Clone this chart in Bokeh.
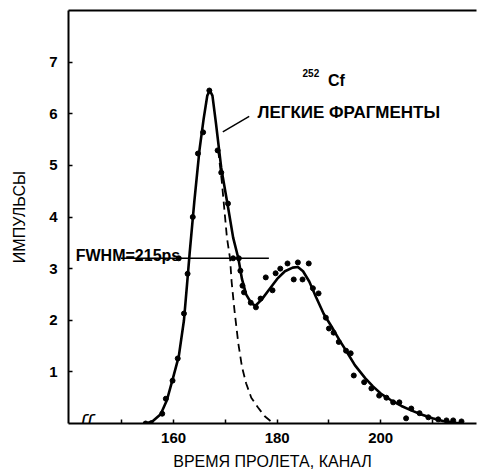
from bokeh.plotting import figure
from bokeh.models import Range1d, FixedTicker, LinearAxis, Label
from bokeh.embed import file_html
from bokeh.resources import INLINE

# solid fitted curve
curve_x = [154.8, 156, 157.5, 158.7, 159.8, 161, 162, 162.6, 163.1, 164, 165, 165.8, 166.5, 167, 167.5,
           168.2, 169.2, 170.5, 171.5, 172.5, 173.2, 174, 175, 175.8, 177, 178.5, 180, 181.5, 183, 184,
           185, 186.2, 187.5, 189, 190.5, 192, 193.5, 195, 197, 198.5, 200, 202, 204, 206, 208, 210,
           212, 214, 215.5]
curve_y = [0, 0.05, 0.18, 0.45, 0.85, 1.3, 2.0, 2.7, 3.3, 4.3, 5.3, 5.9, 6.35, 6.45, 6.35,
           5.8, 4.95, 4.2, 3.6, 3.2, 2.8, 2.5, 2.33, 2.28, 2.4, 2.6, 2.8, 2.95, 3.02, 3.03,
           2.95, 2.75, 2.45, 2.12, 1.88, 1.62, 1.38, 1.13, 0.88, 0.72, 0.58, 0.45, 0.34, 0.25, 0.17, 0.1,
           0.05, 0.02, 0]

# dashed light-fragment component
dash_x = [168.6, 169.3, 170.3, 170.9, 171.2, 171.8, 172.5, 173.2, 174, 175, 176.3, 177.6, 179.3]
dash_y = [5.3, 4.7, 3.6, 3.2, 2.75, 2.15, 1.55, 1.1, 0.78, 0.5, 0.31, 0.14, 0]

# measured points
pts_x = [154.6, 155.6, 157.8, 158.5, 159.8, 160.8, 162.0, 162.7, 161.0, 163.7, 164.7, 165.7, 166.9,
         168.5, 169.2, 170.5, 171.5, 172.6, 172.9, 173.3, 173.6, 174.9, 175.9, 176.8, 177.8, 179.1,
         179.7, 180.6, 182.0, 183.2, 184.0, 184.9, 186.1, 186.9, 188.0, 189.4, 190.0, 190.9, 191.9,
         193.3, 194.2, 194.8, 196.8, 198.2, 199.7, 201.1, 202.4, 203.6, 204.9, 205.9, 207.5, 209.2,
         211.1, 212.7, 214.0, 215.6]
pts_y = [0, 0, 0.19, 0.48, 0.83, 1.26, 2.13, 2.9, 3.2, 4.0, 5.23, 5.64, 6.45,
         5.29, 4.86, 4.26, 3.2, 3.2, 2.96, 2.67, 2.54, 2.34, 2.25, 2.42, 2.83, 2.58,
         2.91, 3.0, 3.1, 2.79, 3.12, 2.79, 3.1, 2.62, 2.52, 2.05, 1.84, 1.76, 1.58,
         1.41, 1.36, 0.93, 0.8, 0.68, 0.54, 0.5, 0.41, 0.41, 0.1, 0.29, 0.2, 0.12,
         0.08, 0.06, 0.06, 0.04]

y_ticks = [1, 2, 3, 4, 5, 6, 7]
x_ticks = [150, 160, 170, 180, 190, 200, 210]
x_labels = {150: "", 160: "160", 170: "", 180: "180", 190: "", 200: "200", 210: ""}

fwhm_x = [149.8, 178.4]
fwhm_y = [3.2, 3.2]
leader_x = [169.5, 174.6]
leader_y = [5.65, 5.95]

FONT = "Liberation Sans"

p = figure(width=478, height=473, output_backend="svg", toolbar_location=None,
           x_range=Range1d(139.7, 218.5), y_range=Range1d(0, 8),
           min_border_left=68, min_border_right=2, min_border_top=10, min_border_bottom=50,
           x_axis_label="ВРЕМЯ ПРОЛЕТА, КАНАЛ", y_axis_label="ИМПУЛЬСЫ")
p.outline_line_color = None
p.grid.visible = False
p.background_fill_color = "white"
p.border_fill_color = "white"

for ax in (p.xaxis[0], p.yaxis[0]):
    ax.axis_line_width = 2
    ax.axis_line_color = "black"
    ax.major_tick_in = 4
    ax.major_tick_out = 0
    ax.minor_tick_line_color = None
    ax.major_tick_line_width = 1.5
    ax.major_label_text_font = FONT
    ax.major_label_text_font_style = "bold"
    ax.major_label_text_font_size = "15px"
    ax.major_label_text_color = "black"
    ax.axis_label_text_font = FONT
    ax.axis_label_text_font_style = "normal"
    ax.axis_label_text_font_size = "16px"
    ax.axis_label_text_color = "black"

p.yaxis[0].ticker = FixedTicker(ticks=y_ticks)
p.yaxis[0].major_label_standoff = 11
p.yaxis[0].axis_label_standoff = 18
p.xaxis[0].ticker = FixedTicker(ticks=x_ticks)
p.xaxis[0].major_label_overrides = x_labels
p.xaxis[0].major_label_standoff = 9
p.xaxis[0].axis_label_standoff = 7

top = LinearAxis(ticker=FixedTicker(ticks=[]), axis_line_width=2, axis_line_color="black",
                 major_label_text_font_size="0px", major_tick_in=0, major_tick_out=0,
                 minor_tick_in=0, minor_tick_out=0)
p.add_layout(top, "above")

p.line(curve_x, curve_y, line_color="black", line_width=2.6)
p.line(dash_x, dash_y, line_color="black", line_width=1.8, line_dash="8 5")
p.scatter(pts_x, pts_y, size=5, fill_color="black", line_color="black")
p.line(fwhm_x, fwhm_y, line_color="black", line_width=1.6)
p.line(leader_x, leader_y, line_color="black", line_width=1.5)

p.add_layout(Label(x=176.2, y=6.02, text="ЛЕГКИЕ   ФРАГМЕНТЫ", text_font=FONT,
                   text_font_style="bold", text_font_size="17px", text_baseline="middle",
                   text_align="left", text_color="black"))
p.add_layout(Label(x=141.1, y=3.26, text="FWHM=215ps", text_font=FONT,
                   text_font_style="bold", text_font_size="16px", text_baseline="alphabetic",
                   text_align="left", text_color="black"))
p.add_layout(Label(x=184.9, y=6.78, text="252", text_font=FONT,
                   text_font_style="bold", text_font_size="10px", text_baseline="alphabetic",
                   text_align="left", text_color="black"))
p.add_layout(Label(x=189.8, y=6.65, text="Cf", text_font=FONT,
                   text_font_style="bold", text_font_size="16px", text_baseline="alphabetic",
                   text_align="left", text_color="black"))
p.add_layout(Label(x=143.2, y=0.02, text="ʃʃ", text_font="DejaVu Sans",
                   text_font_style="italic", text_font_size="20px", text_baseline="middle",
                   text_align="center", text_color="black"))

open("out.html", "w").write(file_html(p, INLINE))
